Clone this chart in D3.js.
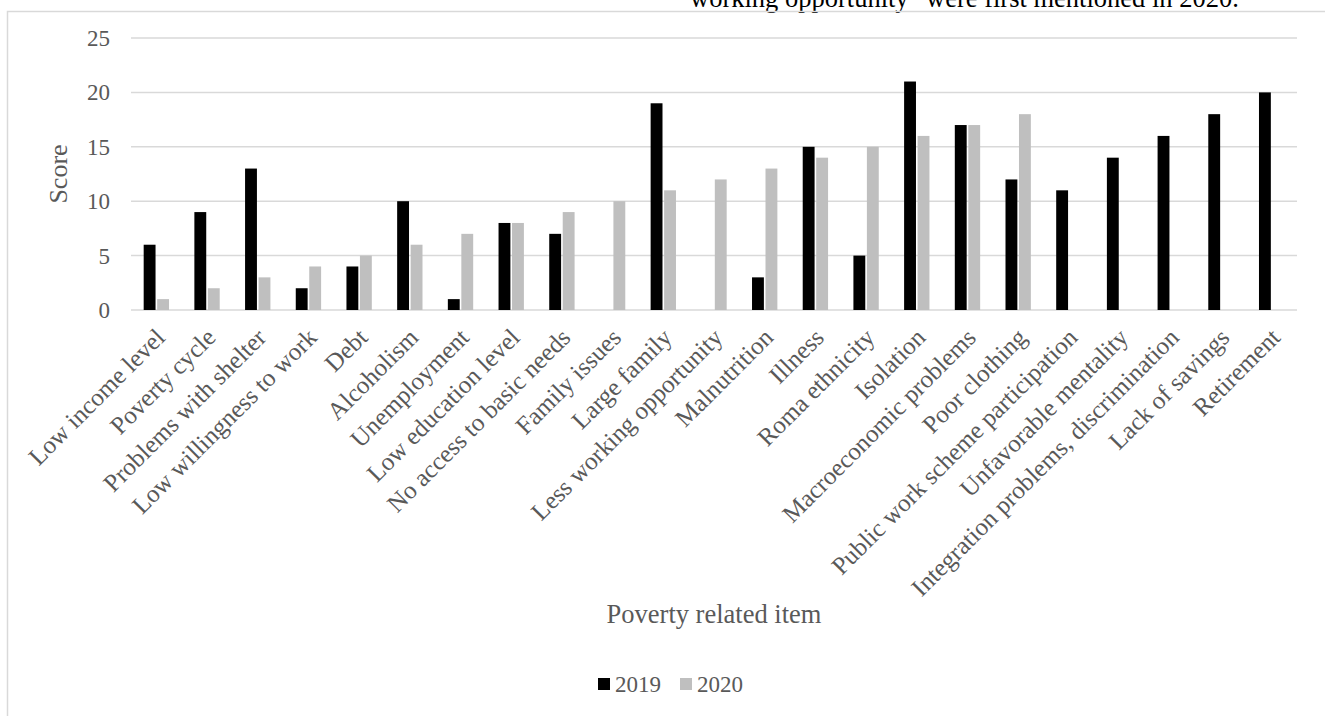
<!doctype html>
<head>
  <script src="https://d3js.org/d3.v7.min.js"></script>
  <style>
    body { margin: 0; background: #fff; }
    text { font-family: "Liberation Serif", "Times New Roman", serif; }
  </style>
</head>
<body>
<div id="viz"></div>
<script>

var categories = [
  'Low income level', 'Poverty cycle', 'Problems with shelter', 'Low willingness to work',
  'Debt', 'Alcoholism', 'Unemployment', 'Low education level', 'No access to basic needs',
  'Family issues', 'Large family', 'Less working opportunity', 'Malnutrition', 'Illness',
  'Roma ethnicity', 'Isolation', 'Macroeconomic problems', 'Poor clothing',
  'Public work scheme participation', 'Unfavorable mentality',
  'Integration problems, discrimination', 'Lack of savings', 'Retirement'
]

var years = ['2019', '2020']

var values2019 = [6, 9, 13, 2, 4, 10, 1, 8, 7, null, 19, null, 3, 15, 5, 21, 17, 12, 11, 14, 16, 18, 20]
var values2020 = [1, 2, 3, 4, 5, 6, 7, 8, 9, 10, 11, 12, 13, 14, 15, 16, 17, 18, null, null, null, null, null]

var yTicks = [0, 5, 10, 15, 20, 25]

var colors = { '2019': '#000000', '2020': '#bfbfbf' }
var textColor = '#595959'
var gridColor = '#d9d9d9'

var rows = categories.map(function(c, i) {
  return { cat: c, '2019': values2019[i], '2020': values2020[i] }
})

var svg = d3.select('#viz').append('svg')
  .attr('width', 1325)
  .attr('height', 716)

// last line of the page text above the chart, cut off at the top like the source
svg.append('text')
  .attr('x', 690)
  .attr('y', 7)
  .style('font-size', '26.5px')
  .style('fill', '#000')
  .text('working opportunity" were first mentioned in 2020.')

svg.append('rect')
  .attr('x', 7.5)
  .attr('y', 11.5)
  .attr('width', 1340)
  .attr('height', 730)
  .style('fill', 'none')
  .style('stroke', gridColor)
  .style('stroke-width', 1.5)

var x0 = d3.scaleBand()
  .domain(categories)
  .range([131, 1297])
  .paddingInner(0.5)
  .paddingOuter(0.25)

var x1 = d3.scaleBand()
  .domain(years)
  .range([0, x0.bandwidth()])
  .paddingInner(0.12)

var y = d3.scaleLinear()
  .domain([0, 25])
  .range([310, 38])

svg.append('g').selectAll('line')
  .data(yTicks)
  .enter()
  .append('line')
  .attr('x1', 131)
  .attr('x2', 1297)
  .attr('y1', function(d) { return y(d); })
  .attr('y2', function(d) { return y(d); })
  .style('stroke', gridColor)
  .style('stroke-width', 1.5)

svg.append('g').selectAll('text')
  .data(yTicks)
  .enter()
  .append('text')
  .attr('x', 110)
  .attr('y', function(d) { return y(d); })
  .attr('dy', '0.35em')
  .attr('text-anchor', 'end')
  .style('font-size', '23px')
  .style('fill', textColor)
  .text(function(d) { return d; })

var groups = svg.append('g').selectAll('g')
  .data(rows)
  .enter()
  .append('g')
  .attr('transform', function(d) { return 'translate(' + x0(d.cat) + ',0)'; })

groups.selectAll('rect')
  .data(function(d) {
    return years.filter(function(k) { return d[k] != null; })
      .map(function(k) { return { key: k, value: d[k] }; })
  })
  .enter()
  .append('rect')
  .attr('x', function(d) { return x1(d.key); })
  .attr('width', x1.bandwidth())
  .attr('y', function(d) { return y(d.value); })
  .attr('height', function(d) { return y(0) - y(d.value); })
  .style('fill', function(d) { return colors[d.key]; })

svg.append('g').selectAll('text')
  .data(categories)
  .enter()
  .append('text')
  .attr('transform', function(d) {
    var cx = x0(d) + x0.bandwidth() / 2
    return 'translate(' + (cx + 10) + ',339) rotate(-45)'
  })
  .attr('text-anchor', 'end')
  .style('font-size', '25px')
  .style('fill', textColor)
  .text(function(d) { return d; })

svg.append('text')
  .attr('transform', 'translate(58,174) rotate(-90)')
  .attr('dy', '0.35em')
  .attr('text-anchor', 'middle')
  .style('font-size', '26px')
  .style('fill', textColor)
  .text('Score')

svg.append('text')
  .attr('x', 714)
  .attr('y', 623)
  .attr('text-anchor', 'middle')
  .style('font-size', '26.5px')
  .style('fill', textColor)
  .text('Poverty related item')

var legend = svg.append('g').selectAll('g')
  .data(years)
  .enter()
  .append('g')
  .attr('transform', function(d, i) { return 'translate(' + (598 + i * 82) + ',678)'; })

legend.append('rect')
  .attr('width', 12)
  .attr('height', 12)
  .style('fill', function(d) { return colors[d]; })

legend.append('text')
  .attr('x', 17)
  .attr('y', 14)
  .style('font-size', '23px')
  .style('fill', textColor)
  .text(function(d) { return d; })

</script>
</body>
